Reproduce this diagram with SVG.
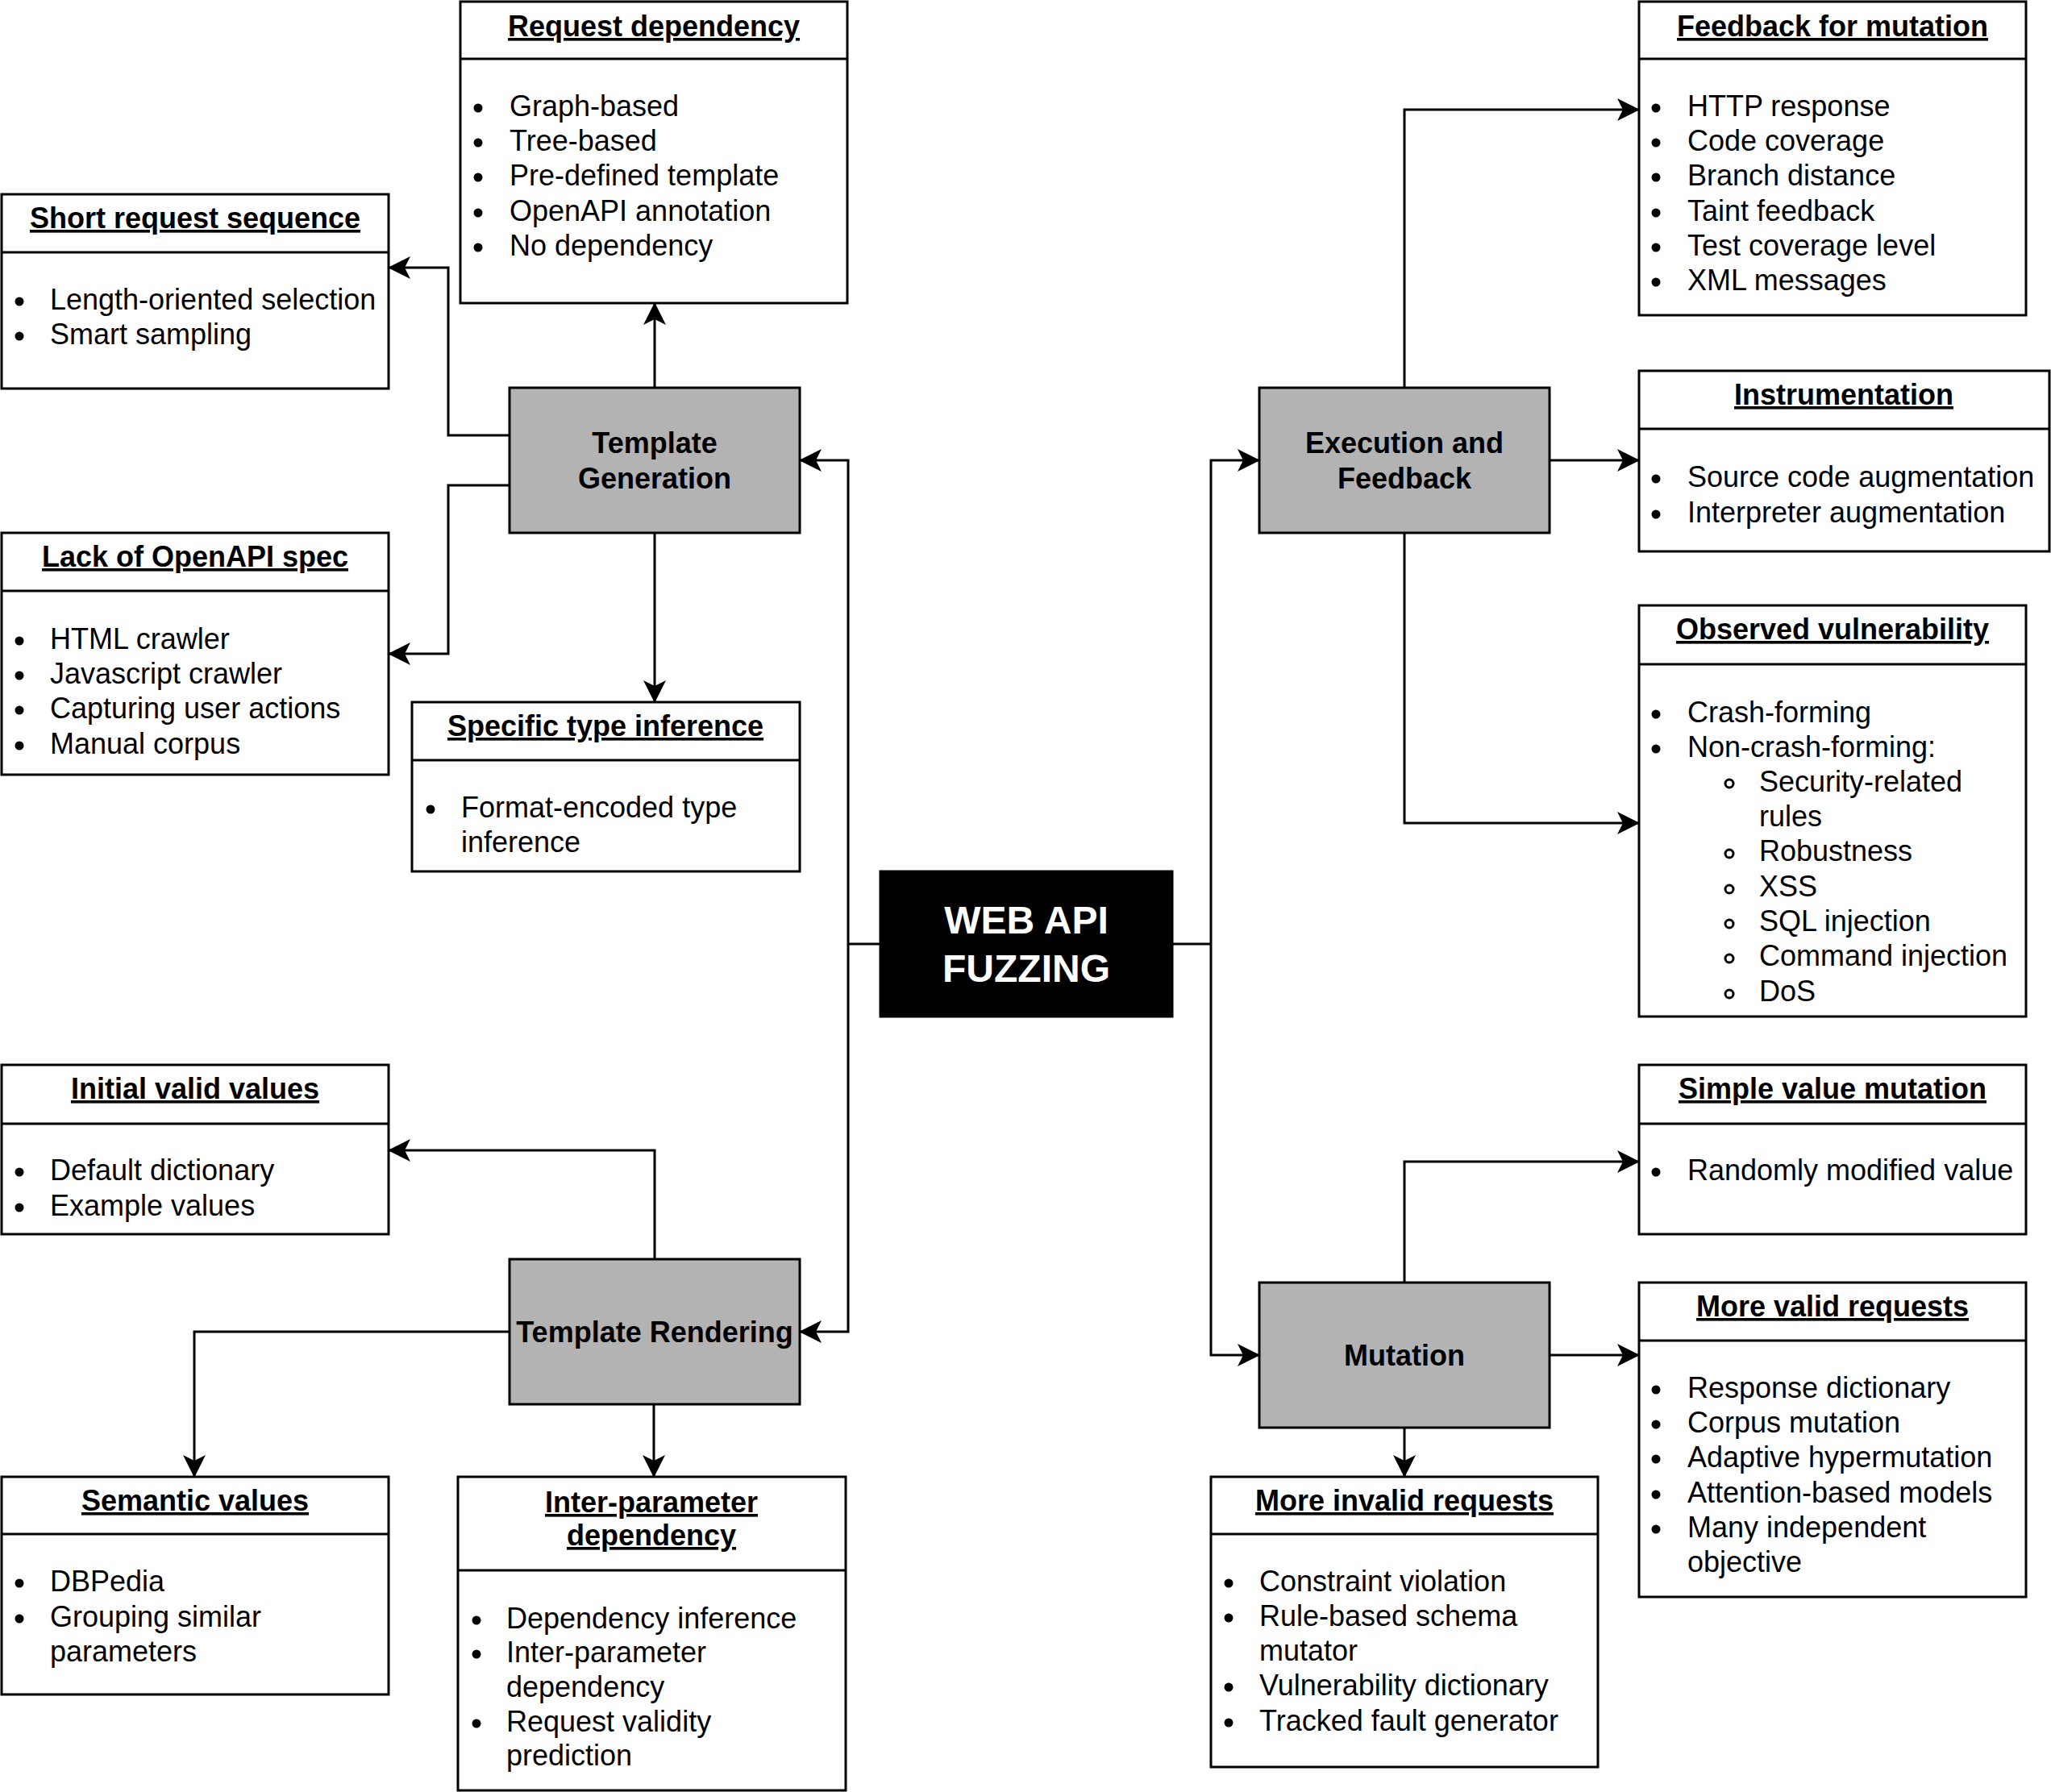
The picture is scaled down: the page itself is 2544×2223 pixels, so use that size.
<svg xmlns="http://www.w3.org/2000/svg" width="2544" height="2223" viewBox="0 0 2544 2223">
<style>
.bg{fill:#fff}
.box{fill:#fff;stroke:#000;stroke-width:3}
.sep{stroke:#000;stroke-width:3}
.node{fill:#b3b3b3;stroke:#000;stroke-width:3}
.core{fill:#000;stroke:#000;stroke-width:3}
.title{font-family:"Liberation Sans",Arial,sans-serif;font-size:36px;font-weight:bold;text-decoration:underline;text-anchor:middle;fill:#000}
.item{font-family:"Liberation Sans",Arial,sans-serif;font-size:36px;fill:#000}
.lbl{font-family:"Liberation Sans",Arial,sans-serif;font-size:36px;font-weight:bold;text-anchor:middle;fill:#000}
.corelbl{font-family:"Liberation Sans",Arial,sans-serif;font-size:48px;font-weight:bold;text-anchor:middle;fill:#fff}
.dot{fill:#000}
.ring{fill:none;stroke:#000;stroke-width:3}
.conn{fill:none;stroke:#000;stroke-width:3;marker-end:url(#arr)}
.line{fill:none;stroke:#000;stroke-width:3}
</style>
<defs>
<marker id="arr" markerUnits="userSpaceOnUse" viewBox="0 0 28 28" refX="27" refY="14" markerWidth="28" markerHeight="28" orient="auto">
<path d="M28,14 L0,0 L7,14 L0,28 Z" fill="#000"/>
</marker>
</defs>
<rect class="bg" x="0" y="0" width="2544" height="2223"/>

<g id="connectors">
<path class="line" d="M1092,1171 H1052"/>
<path class="conn" d="M1052,1171 V571 H992"/>
<path class="conn" d="M1052,1171 V1652 H992"/>
<path class="line" d="M1454,1171 H1502"/>
<path class="conn" d="M1502,1171 V571 H1562"/>
<path class="conn" d="M1502,1171 V1681 H1562"/>
<path class="conn" d="M812,481 V376"/>
<path class="conn" d="M632,540 H556 V332 H482"/>
<path class="conn" d="M632,602 H556 V811 H482"/>
<path class="conn" d="M812,661 V871"/>
<path class="conn" d="M812,1562 V1427 H482"/>
<path class="conn" d="M632,1652 H241 V1832"/>
<path class="conn" d="M811,1742 V1832"/>
<path class="conn" d="M1742,481 V136 H2033"/>
<path class="conn" d="M1922,571 H2033"/>
<path class="conn" d="M1742,661 V1021 H2033"/>
<path class="conn" d="M1742,1591 V1441 H2033"/>
<path class="conn" d="M1922,1681 H2033"/>
<path class="conn" d="M1742,1771 V1832"/>
</g>

<g id="web-api-fuzzing">
<rect class="core" x="1092" y="1081" width="362" height="180"/>
<text class="corelbl" x="1273" y="1158">WEB API</text>
<text class="corelbl" x="1273" y="1218">FUZZING</text>
</g>

<g id="template-generation">
<rect class="node" x="632" y="481" width="360" height="180"/>
<text class="lbl" x="812" y="562">Template</text>
<text class="lbl" x="812" y="606">Generation</text>
</g>

<g id="template-rendering">
<rect class="node" x="632" y="1562" width="360" height="180"/>
<text class="lbl" x="812" y="1665">Template Rendering</text>
</g>

<g id="execution-feedback">
<rect class="node" x="1562" y="481" width="360" height="180"/>
<text class="lbl" x="1742" y="562">Execution and</text>
<text class="lbl" x="1742" y="606">Feedback</text>
</g>

<g id="mutation">
<rect class="node" x="1562" y="1591" width="360" height="180"/>
<text class="lbl" x="1742" y="1694">Mutation</text>
</g>

<g id="request-dependency">
<rect class="box" x="571" y="2" width="480" height="374"/>
<line class="sep" x1="571" y1="73" x2="1051" y2="73"/>
<text class="title" x="811" y="45">Request dependency</text>
<circle class="dot" cx="593" cy="134" r="5.5"/><text class="item" x="632" y="144">Graph-based</text>
<circle class="dot" cx="593" cy="177" r="5.5"/><text class="item" x="632" y="187">Tree-based</text>
<circle class="dot" cx="593" cy="220" r="5.5"/><text class="item" x="632" y="230">Pre-defined template</text>
<circle class="dot" cx="593" cy="264" r="5.5"/><text class="item" x="632" y="274">OpenAPI annotation</text>
<circle class="dot" cx="593" cy="307" r="5.5"/><text class="item" x="632" y="317">No dependency</text>
</g>

<g id="short-request-sequence">
<rect class="box" x="2" y="241" width="480" height="241"/>
<line class="sep" x1="2" y1="313" x2="482" y2="313"/>
<text class="title" x="242" y="283">Short request sequence</text>
<circle class="dot" cx="24" cy="374" r="5.5"/><text class="item" x="62" y="384">Length-oriented selection</text>
<circle class="dot" cx="24" cy="417" r="5.5"/><text class="item" x="62" y="427">Smart sampling</text>
</g>

<g id="lack-of-openapi-spec">
<rect class="box" x="2" y="661" width="480" height="300"/>
<line class="sep" x1="2" y1="733" x2="482" y2="733"/>
<text class="title" x="242" y="703">Lack of OpenAPI spec</text>
<circle class="dot" cx="24" cy="795" r="5.5"/><text class="item" x="62" y="805">HTML crawler</text>
<circle class="dot" cx="24" cy="838" r="5.5"/><text class="item" x="62" y="848">Javascript crawler</text>
<circle class="dot" cx="24" cy="881" r="5.5"/><text class="item" x="62" y="891">Capturing user actions</text>
<circle class="dot" cx="24" cy="925" r="5.5"/><text class="item" x="62" y="935">Manual corpus</text>
</g>

<g id="specific-type-inference">
<rect class="box" x="511" y="871" width="481" height="210"/>
<line class="sep" x1="511" y1="943" x2="992" y2="943"/>
<text class="title" x="751" y="913">Specific type inference</text>
<circle class="dot" cx="534" cy="1004" r="5.5"/><text class="item" x="572" y="1014">Format-encoded type</text>
<text class="item" x="572" y="1057">inference</text>
</g>

<g id="initial-valid-values">
<rect class="box" x="2" y="1321" width="480" height="210"/>
<line class="sep" x1="2" y1="1394" x2="482" y2="1394"/>
<text class="title" x="242" y="1363">Initial valid values</text>
<circle class="dot" cx="24" cy="1454" r="5.5"/><text class="item" x="62" y="1464">Default dictionary</text>
<circle class="dot" cx="24" cy="1498" r="5.5"/><text class="item" x="62" y="1508">Example values</text>
</g>

<g id="semantic-values">
<rect class="box" x="2" y="1832" width="480" height="270"/>
<line class="sep" x1="2" y1="1903" x2="482" y2="1903"/>
<text class="title" x="242" y="1874">Semantic values</text>
<circle class="dot" cx="24" cy="1964" r="5.5"/><text class="item" x="62" y="1974">DBPedia</text>
<circle class="dot" cx="24" cy="2008" r="5.5"/><text class="item" x="62" y="2018">Grouping similar</text>
<text class="item" x="62" y="2061">parameters</text>
</g>

<g id="inter-parameter-dependency">
<rect class="box" x="568" y="1832" width="481" height="389"/>
<line class="sep" x1="568" y1="1948" x2="1049" y2="1948"/>
<text class="title" x="808" y="1876">Inter-parameter</text>
<text class="title" x="808" y="1917">dependency</text>
<circle class="dot" cx="591" cy="2010" r="5.5"/><text class="item" x="628" y="2020">Dependency inference</text>
<circle class="dot" cx="591" cy="2052" r="5.5"/><text class="item" x="628" y="2062">Inter-parameter</text>
<text class="item" x="628" y="2105">dependency</text>
<circle class="dot" cx="591" cy="2138" r="5.5"/><text class="item" x="628" y="2148">Request validity</text>
<text class="item" x="628" y="2190">prediction</text>
</g>

<g id="feedback-for-mutation">
<rect class="box" x="2033" y="2" width="480" height="389"/>
<line class="sep" x1="2033" y1="73" x2="2513" y2="73"/>
<text class="title" x="2273" y="45">Feedback for mutation</text>
<circle class="dot" cx="2054" cy="134" r="5.5"/><text class="item" x="2093" y="144">HTTP response</text>
<circle class="dot" cx="2054" cy="177" r="5.5"/><text class="item" x="2093" y="187">Code coverage</text>
<circle class="dot" cx="2054" cy="220" r="5.5"/><text class="item" x="2093" y="230">Branch distance</text>
<circle class="dot" cx="2054" cy="264" r="5.5"/><text class="item" x="2093" y="274">Taint feedback</text>
<circle class="dot" cx="2054" cy="307" r="5.5"/><text class="item" x="2093" y="317">Test coverage level</text>
<circle class="dot" cx="2054" cy="350" r="5.5"/><text class="item" x="2093" y="360">XML messages</text>
</g>

<g id="instrumentation">
<rect class="box" x="2033" y="460" width="509" height="224"/>
<line class="sep" x1="2033" y1="532" x2="2542" y2="532"/>
<text class="title" x="2287" y="502">Instrumentation</text>
<circle class="dot" cx="2054" cy="594" r="5.5"/><text class="item" x="2093" y="604">Source code augmentation</text>
<circle class="dot" cx="2054" cy="638" r="5.5"/><text class="item" x="2093" y="648">Interpreter augmentation</text>
</g>

<g id="observed-vulnerability">
<rect class="box" x="2033" y="751" width="480" height="510"/>
<line class="sep" x1="2033" y1="824" x2="2513" y2="824"/>
<text class="title" x="2273" y="793">Observed vulnerability</text>
<circle class="dot" cx="2054" cy="886" r="5.5"/><text class="item" x="2093" y="896">Crash-forming</text>
<circle class="dot" cx="2054" cy="929" r="5.5"/><text class="item" x="2093" y="939">Non-crash-forming:</text>
<circle class="ring" cx="2145" cy="972" r="5"/><text class="item" x="2182" y="982">Security-related</text>
<text class="item" x="2182" y="1025">rules</text>
<circle class="ring" cx="2145" cy="1059" r="5"/><text class="item" x="2182" y="1068">Robustness</text>
<circle class="ring" cx="2145" cy="1103" r="5"/><text class="item" x="2182" y="1112">XSS</text>
<circle class="ring" cx="2145" cy="1146" r="5"/><text class="item" x="2182" y="1155">SQL injection</text>
<circle class="ring" cx="2145" cy="1189" r="5"/><text class="item" x="2182" y="1198">Command injection</text>
<circle class="ring" cx="2145" cy="1233" r="5"/><text class="item" x="2182" y="1242">DoS</text>
</g>

<g id="simple-value-mutation">
<rect class="box" x="2033" y="1321" width="480" height="210"/>
<line class="sep" x1="2033" y1="1394" x2="2513" y2="1394"/>
<text class="title" x="2273" y="1363">Simple value mutation</text>
<circle class="dot" cx="2054" cy="1454" r="5.5"/><text class="item" x="2093" y="1464">Randomly modified value</text>
</g>

<g id="more-valid-requests">
<rect class="box" x="2033" y="1591" width="480" height="390"/>
<line class="sep" x1="2033" y1="1663" x2="2513" y2="1663"/>
<text class="title" x="2273" y="1633">More valid requests</text>
<circle class="dot" cx="2054" cy="1724" r="5.5"/><text class="item" x="2093" y="1734">Response dictionary</text>
<circle class="dot" cx="2054" cy="1767" r="5.5"/><text class="item" x="2093" y="1777">Corpus mutation</text>
<circle class="dot" cx="2054" cy="1810" r="5.5"/><text class="item" x="2093" y="1820">Adaptive hypermutation</text>
<circle class="dot" cx="2054" cy="1854" r="5.5"/><text class="item" x="2093" y="1864">Attention-based models</text>
<circle class="dot" cx="2054" cy="1897" r="5.5"/><text class="item" x="2093" y="1907">Many independent</text>
<text class="item" x="2093" y="1950">objective</text>
</g>

<g id="more-invalid-requests">
<rect class="box" x="1502" y="1832" width="480" height="360"/>
<line class="sep" x1="1502" y1="1903" x2="1982" y2="1903"/>
<text class="title" x="1742" y="1874">More invalid requests</text>
<circle class="dot" cx="1524" cy="1964" r="5.5"/><text class="item" x="1562" y="1974">Constraint violation</text>
<circle class="dot" cx="1524" cy="2007" r="5.5"/><text class="item" x="1562" y="2017">Rule-based schema</text>
<text class="item" x="1562" y="2060">mutator</text>
<circle class="dot" cx="1524" cy="2093" r="5.5"/><text class="item" x="1562" y="2103">Vulnerability dictionary</text>
<circle class="dot" cx="1524" cy="2137" r="5.5"/><text class="item" x="1562" y="2147">Tracked fault generator</text>
</g>
</svg>
